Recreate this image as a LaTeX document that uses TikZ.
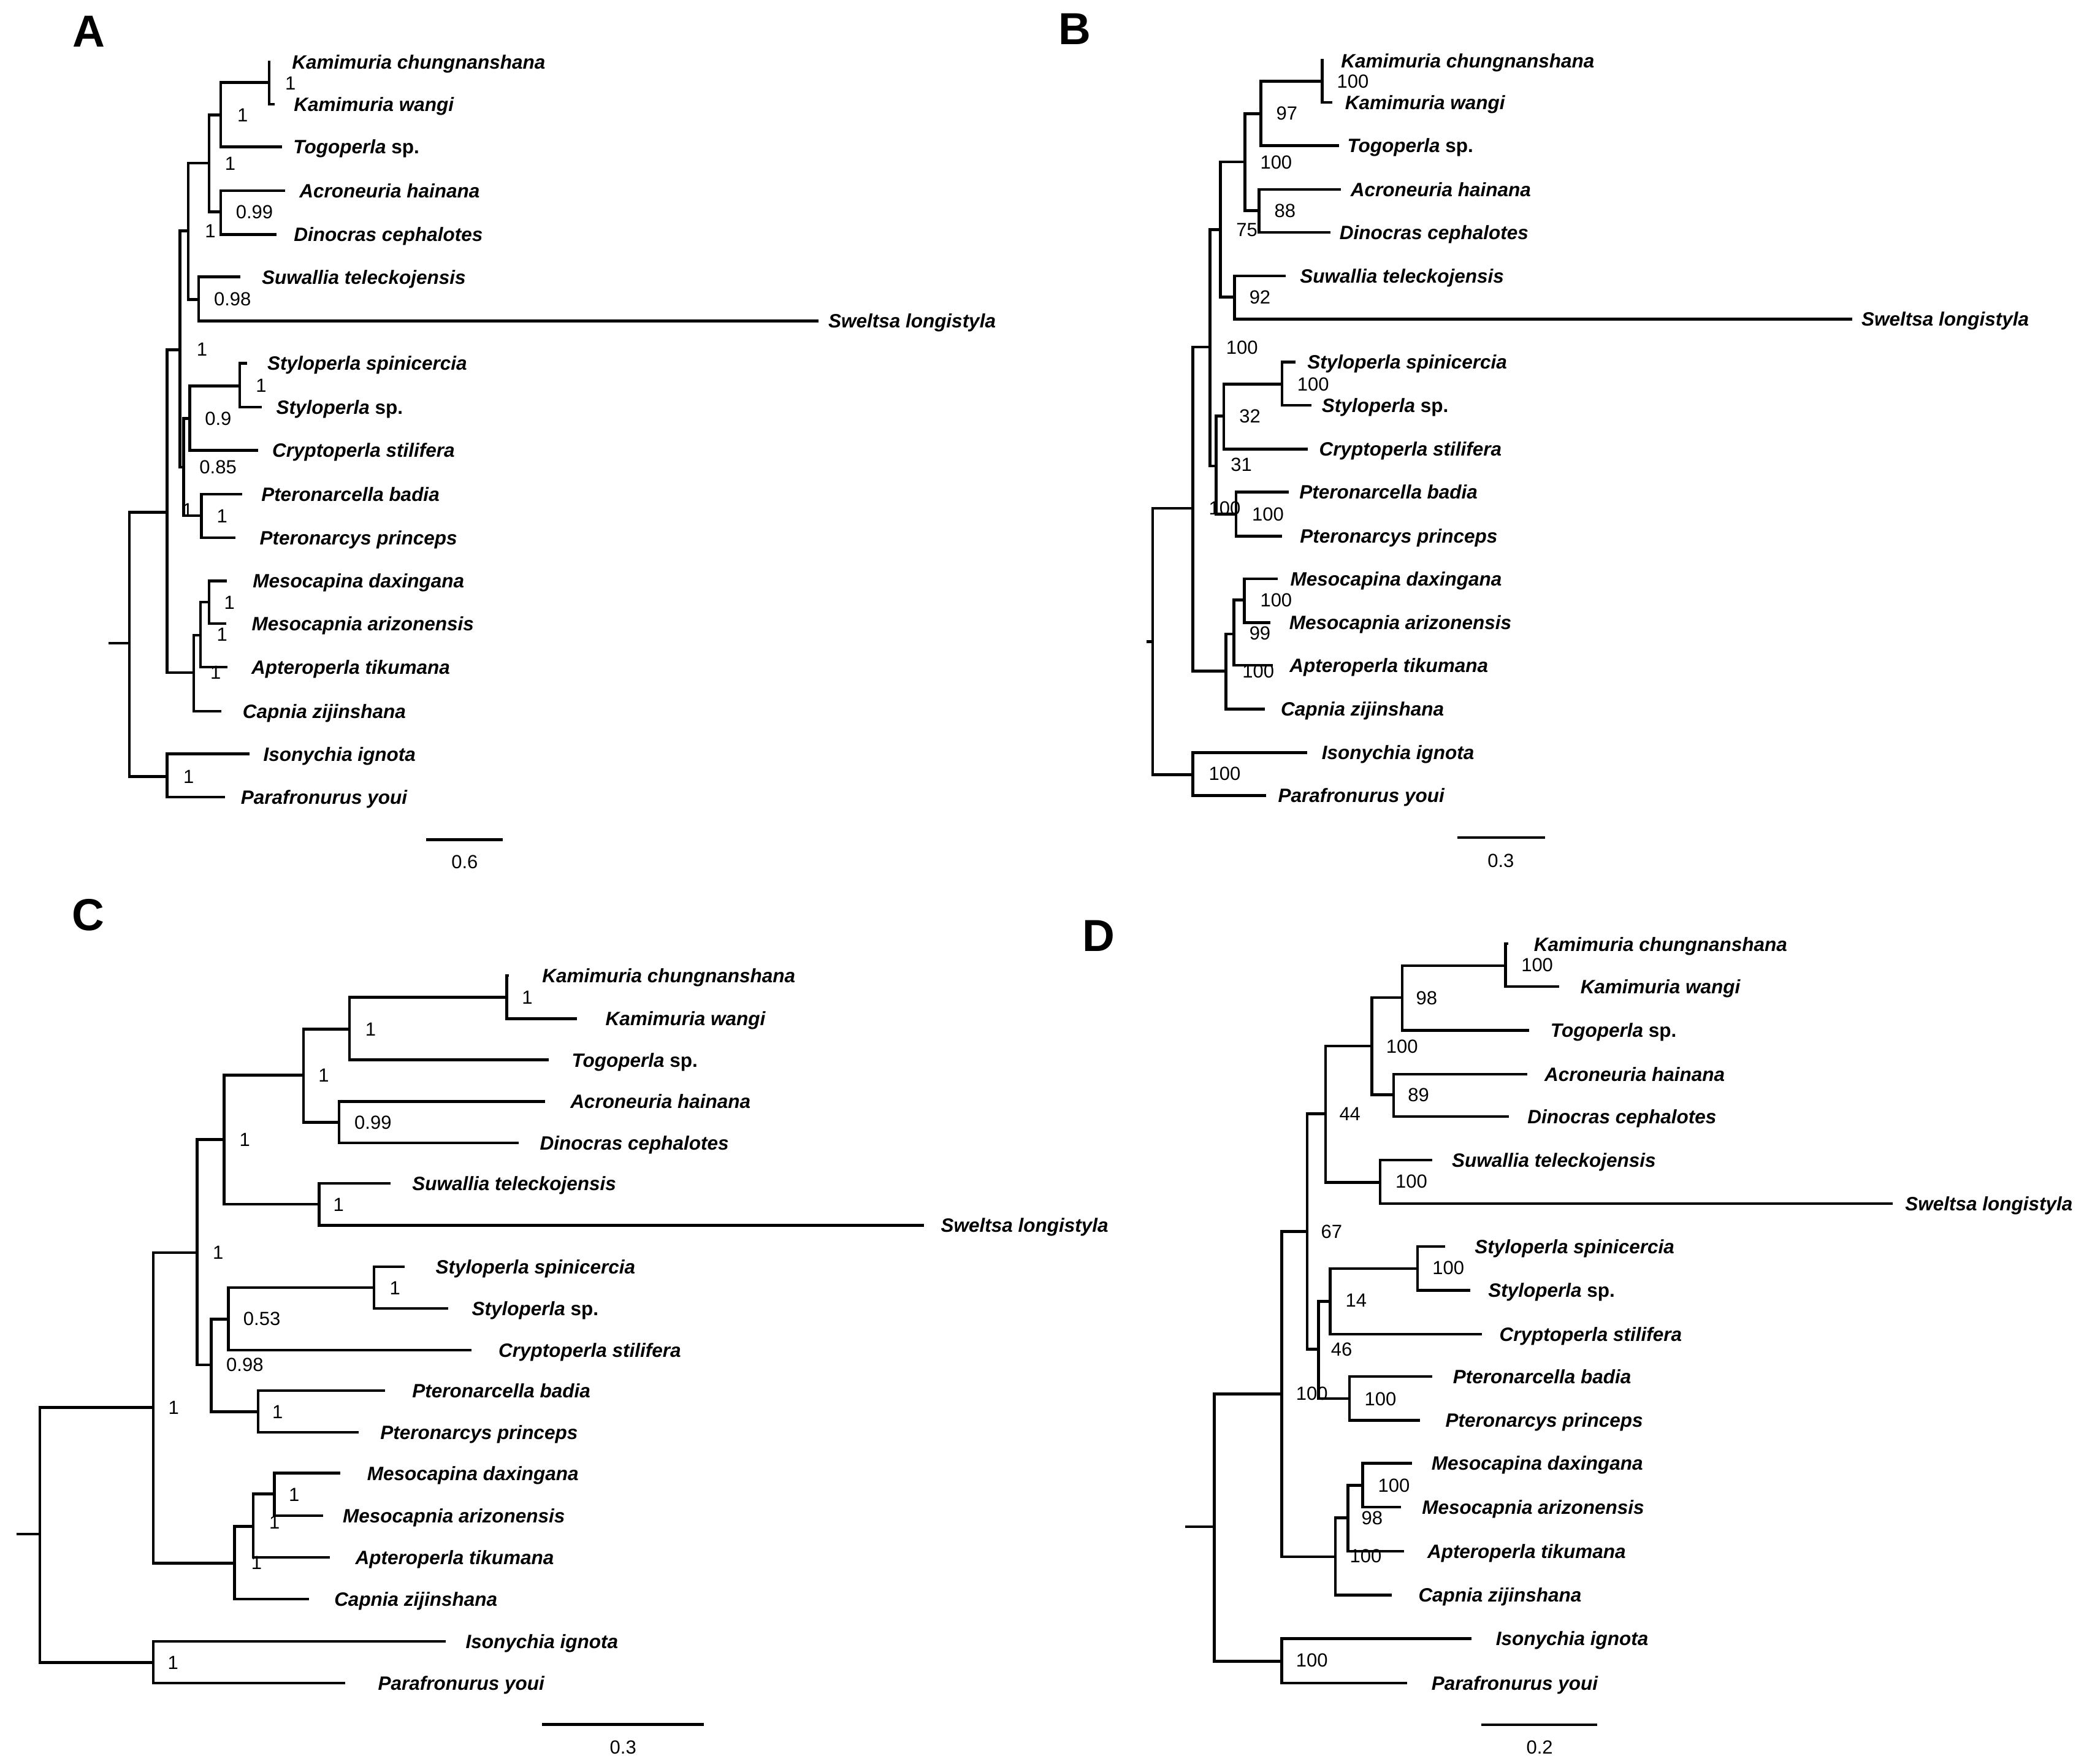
\documentclass[tikz,border=0pt]{standalone}
\usepackage{fontspec}
\setmainfont{Liberation Sans}
\tikzset{
  branch/.style={line width=1.8pt},
  taxon/.style={anchor=base west, inner sep=0pt, yshift=-1.56mm, font=\fontsize{12.4}{14}\selectfont\bfseries\itshape},
  support/.style={anchor=base west, inner sep=0pt, yshift=-1.53mm, font=\fontsize{12.2}{14}\selectfont},
  barlabel/.style={anchor=base, inner sep=0pt, yshift=-1.53mm, font=\fontsize{12.2}{14}\selectfont},
  panel/.style={inner sep=0pt, font=\fontsize{28.8}{32}\selectfont\bfseries}
}
\begin{document}
\begin{tikzpicture}[x=0.3mm, y=-0.3mm]
\useasboundingbox (0,0) rectangle (1568,1327);

\node[panel] (pA) at (66.7,23.6) {A};
\node[panel] (pB) at (808.5,22) {B};
\node[panel] (pC) at (66.5,688.5) {C};
\node[panel] (pD) at (826.5,704.3) {D};

% ---------------- A ----------------
\coordinate (aKC) at (202.6,45.6);
\coordinate (aKW) at (206.7,78.5);
\coordinate (aTOG) at (212.3,110.5);
\coordinate (aACR) at (214.3,143.5);
\coordinate (aDIN) at (208.2,176.4);
\coordinate (aSUW) at (181.0,208.4);
\coordinate (aSWE) at (616,241.4);
\coordinate (aSSP) at (186.1,273.4);
\coordinate (aSSN) at (196.8,306.4);
\coordinate (aCRY) at (194.2,338.8);
\coordinate (aPTA) at (182.4,371.9);
\coordinate (aPTY) at (177.3,404.5);
\coordinate (aMDA) at (170.5,437);
\coordinate (aMAR) at (170.1,469.2);
\coordinate (aAPT) at (171.1,502);
\coordinate (aCAP) at (166.4,535.1);
\coordinate (aISO) at (187.6,567.3);
\coordinate (aPAR) at (169.5,599.8);

\coordinate (a1) at (202.6,62.1);
\coordinate (a2) at (166.0,86.4);
\coordinate (a3) at (166.0,159.5);
\coordinate (a4) at (157.3,122.8);
\coordinate (a5) at (149.5,225.4);
\coordinate (a6) at (141.7,173.6);
\coordinate (a7) at (180.4,290.4);
\coordinate (a8) at (142.7,314.8);
\coordinate (a9) at (151.6,388);
\coordinate (a10) at (138.2,351.6);
\coordinate (a11) at (135.5,263.1);
\coordinate (a12) at (157.3,453);
\coordinate (a13) at (150.9,478);
\coordinate (a14) at (145.8,506);
\coordinate (a15) at (125.8,385.3);
\coordinate (a16) at (125.8,584.3);
\coordinate (aR) at (97.4,484);
\coordinate (aS) at (81.5,484);

\path[draw,branch] (a1) |- (aKC) (a1) |- (aKW);
\path[draw,branch] (a2) |- (a1) (a2) |- (aTOG);
\path[draw,branch] (a3) |- (aACR) (a3) |- (aDIN);
\path[draw,branch] (a4) |- (a2) (a4) |- (a3);
\path[draw,branch] (a5) |- (aSUW) (a5) |- (aSWE);
\path[draw,branch] (a6) |- (a4) (a6) |- (a5);
\path[draw,branch] (a7) |- (aSSP) (a7) |- (aSSN);
\path[draw,branch] (a8) |- (a7) (a8) |- (aCRY);
\path[draw,branch] (a9) |- (aPTA) (a9) |- (aPTY);
\path[draw,branch] (a10) |- (a8) (a10) |- (a9);
\path[draw,branch] (a11) |- (a6) (a11) |- (a10);
\path[draw,branch] (a12) |- (aMDA) (a12) |- (aMAR);
\path[draw,branch] (a13) |- (a12) (a13) |- (aAPT);
\path[draw,branch] (a14) |- (a13) (a14) |- (aCAP);
\path[draw,branch] (a15) |- (a11) (a15) |- (a14);
\path[draw,branch] (a16) |- (aISO) (a16) |- (aPAR);
\path[draw,branch] (aR) |- (a15) (aR) |- (a16);
\path[draw,branch] (aS) -- (aR);

\node[taxon] (aKCt) at (219.5,46.5) {Kamimuria chungnanshana};
\node[taxon] (aKWt) at (220.9,78.5) {Kamimuria wangi};
\node[taxon] (aTOGt) at (220.5,110.5) {Togoperla {\upshape sp.}};
\node[taxon] (aACRt) at (225.1,143.5) {Acroneuria hainana};
\node[taxon] (aDINt) at (220.9,176.4) {Dinocras cephalotes};
\node[taxon] (aSUWt) at (196.8,208.4) {Suwallia teleckojensis};
\node[taxon] (aSWEt) at (623,241.4) {Sweltsa longistyla};
\node[taxon] (aSSPt) at (201,273.4) {Styloperla spinicercia};
\node[taxon] (aSSNt) at (207.6,306.4) {Styloperla {\upshape sp.}};
\node[taxon] (aCRYt) at (204.7,338.8) {Cryptoperla stilifera};
\node[taxon] (aPTAt) at (196.4,371.9) {Pteronarcella badia};
\node[taxon] (aPTYt) at (195.2,404.5) {Pteronarcys princeps};
\node[taxon] (aMDAt) at (190,437) {Mesocapina daxingana};
\node[taxon] (aMARt) at (189.2,469.2) {Mesocapnia arizonensis};
\node[taxon] (aAPTt) at (189,502) {Apteroperla tikumana};
\node[taxon] (aCAPt) at (182.4,535.1) {Capnia zijinshana};
\node[taxon] (aISOt) at (197.9,567.3) {Isonychia ignota};
\node[taxon] (aPARt) at (181,599.8) {Parafronurus youi};

\node[support] (a1v) at (214.3,62.5) {1};
\node[support] (a2v) at (178.3,86.4) {1};
\node[support] (a4v) at (169,122.8) {1};
\node[support] (a3v) at (177.3,159.5) {0.99};
\node[support] (a6v) at (154,173.6) {1};
\node[support] (a5v) at (160.8,225) {0.98};
\node[support] (a11v) at (147.8,262.7) {1};
\node[support] (a7v) at (192.3,289.8) {1};
\node[support] (a8v) at (154,314.8) {0.9};
\node[support] (a10v) at (149.9,351.1) {0.85};
\node[support] (a15v) at (137,383.6) {1};
\node[support] (a9v) at (162.9,388) {1};
\node[support] (a12v) at (168.4,453) {1};
\node[support] (a13v) at (162.9,477.3) {1};
\node[support] (a14v) at (158,506) {1};
\node[support] (a16v) at (137.8,584.3) {1};

\coordinate (aB1) at (320.8,631.7);
\coordinate (aB2) at (378.4,631.7);
\path[draw,branch] (aB1) -- (aB2);
\node[barlabel] (aBt) at (349.6,648.3) {0.6};

% ---------------- B ----------------
\coordinate (bKC) at (994.8,44.3);
\coordinate (bKW) at (1002.6,77);
\coordinate (bTOG) at (1007.3,109.6);
\coordinate (bACR) at (1008.8,142.5);
\coordinate (bDIN) at (1001.1,174.9);
\coordinate (bSUW) at (967.2,207.5);
\coordinate (bSWE) at (1393.8,240.1);
\coordinate (bSSP) at (974.8,272.5);
\coordinate (bSSN) at (986.7,304.9);
\coordinate (bCRY) at (984,337.9);
\coordinate (bPTA) at (969.6,370.3);
\coordinate (bPTY) at (964.5,403.4);
\coordinate (bMDA) at (961.4,435.4);
\coordinate (bMAR) at (955.6,468.5);
\coordinate (bAPT) at (957.9,500.5);
\coordinate (bCAP) at (951.7,533.6);
\coordinate (bISO) at (983.4,566.2);
\coordinate (bPAR) at (952.5,598.6);

\coordinate (b1) at (994.8,61.2);
\coordinate (b2) at (948.6,85.7);
\coordinate (b3) at (947.4,158.5);
\coordinate (b4) at (936.7,121.8);
\coordinate (b5) at (928.9,223.5);
\coordinate (b6) at (918.2,172.7);
\coordinate (b7) at (964.5,289);
\coordinate (b8) at (920.8,313);
\coordinate (b9) at (929.9,386.9);
\coordinate (b10) at (915.1,350.5);
\coordinate (b11) at (910.5,261.2);
\coordinate (b12) at (936.1,451.5);
\coordinate (b13) at (928.5,476.9);
\coordinate (b14) at (922.3,504.9);
\coordinate (b15) at (897.6,382.5);
\coordinate (b16) at (897.6,582.8);
\coordinate (bR) at (867.3,482.8);
\coordinate (bS) at (862.6,482.8);

\path[draw,branch] (b1) |- (bKC) (b1) |- (bKW);
\path[draw,branch] (b2) |- (b1) (b2) |- (bTOG);
\path[draw,branch] (b3) |- (bACR) (b3) |- (bDIN);
\path[draw,branch] (b4) |- (b2) (b4) |- (b3);
\path[draw,branch] (b5) |- (bSUW) (b5) |- (bSWE);
\path[draw,branch] (b6) |- (b4) (b6) |- (b5);
\path[draw,branch] (b7) |- (bSSP) (b7) |- (bSSN);
\path[draw,branch] (b8) |- (b7) (b8) |- (bCRY);
\path[draw,branch] (b9) |- (bPTA) (b9) |- (bPTY);
\path[draw,branch] (b10) |- (b8) (b10) |- (b9);
\path[draw,branch] (b11) |- (b6) (b11) |- (b10);
\path[draw,branch] (b12) |- (bMDA) (b12) |- (bMAR);
\path[draw,branch] (b13) |- (b12) (b13) |- (bAPT);
\path[draw,branch] (b14) |- (b13) (b14) |- (bCAP);
\path[draw,branch] (b15) |- (b11) (b15) |- (b14);
\path[draw,branch] (b16) |- (bISO) (b16) |- (bPAR);
\path[draw,branch] (bR) |- (b15) (bR) |- (b16);
\path[draw,branch] (bS) -- (bR);

\node[taxon] (bKCt) at (1008.8,46) {Kamimuria chungnanshana};
\node[taxon] (bKWt) at (1011.8,77) {Kamimuria wangi};
\node[taxon] (bTOGt) at (1013.5,109.6) {Togoperla {\upshape sp.}};
\node[taxon] (bACRt) at (1016,142.5) {Acroneuria hainana};
\node[taxon] (bDINt) at (1007.7,174.9) {Dinocras cephalotes};
\node[taxon] (bSUWt) at (977.9,207.5) {Suwallia teleckojensis};
\node[taxon] (bSWEt) at (1400.4,240.1) {Sweltsa longistyla};
\node[taxon] (bSSPt) at (983.4,272.5) {Styloperla spinicercia};
\node[taxon] (bSSNt) at (994.3,304.9) {Styloperla {\upshape sp.}};
\node[taxon] (bCRYt) at (992.3,337.9) {Cryptoperla stilifera};
\node[taxon] (bPTAt) at (977.5,370.3) {Pteronarcella badia};
\node[taxon] (bPTYt) at (977.9,403.4) {Pteronarcys princeps};
\node[taxon] (bMDAt) at (970.7,435.4) {Mesocapina daxingana};
\node[taxon] (bMARt) at (969.8,468.5) {Mesocapnia arizonensis};
\node[taxon] (bAPTt) at (970.1,500.5) {Apteroperla tikumana};
\node[taxon] (bCAPt) at (963.5,533.6) {Capnia zijinshana};
\node[taxon] (bISOt) at (994.3,566.2) {Isonychia ignota};
\node[taxon] (bPARt) at (961.4,598.6) {Parafronurus youi};

\node[support] (b1v) at (1005.7,61.2) {100};
\node[support] (b2v) at (960,85.1) {97};
\node[support] (b4v) at (948,121.8) {100};
\node[support] (b3v) at (958.7,158.5) {88};
\node[support] (b6v) at (929.9,172.7) {75};
\node[support] (b5v) at (939.8,223.5) {92};
\node[support] (b11v) at (922.3,261.2) {100};
\node[support] (b7v) at (975.8,289) {100};
\node[support] (b8v) at (932.2,313) {32};
\node[support] (b10v) at (925.8,349.4) {31};
\node[support] (b15v) at (909.3,382) {100};
\node[support] (b9v) at (941.8,386.9) {100};
\node[support] (b12v) at (948,451.5) {100};
\node[support] (b13v) at (939.8,476.2) {99};
\node[support] (b14v) at (934.6,504.9) {100};
\node[support] (b16v) at (909.3,582.1) {100};

\coordinate (bB1) at (1096.3,630.2);
\coordinate (bB2) at (1162.6,630.2);
\path[draw,branch] (bB1) -- (bB2);
\node[barlabel] (bBt) at (1129.2,647.2) {0.3};

% ---------------- C ----------------
\coordinate (cKC) at (382.9,734);
\coordinate (cKW) at (434.2,766.5);
\coordinate (cTOG) at (413,797.5);
\coordinate (cACR) at (410.2,828.7);
\coordinate (cDIN) at (390.1,859.8);
\coordinate (cSUW) at (293.7,890.4);
\coordinate (cSWE) at (695.3,921.8);
\coordinate (cSSP) at (304.6,953);
\coordinate (cSSN) at (337.1,984.5);
\coordinate (cCRY) at (354.8,1015.8);
\coordinate (cPTA) at (289.5,1046.3);
\coordinate (cPTY) at (270,1077.7);
\coordinate (cMDA) at (255.9,1108.4);
\coordinate (cMAR) at (242.9,1140.3);
\coordinate (cAPT) at (248.2,1171.8);
\coordinate (cCAP) at (232.3,1203);
\coordinate (cISO) at (335.4,1234.9);
\coordinate (cPAR) at (259.5,1266.2);

\coordinate (c1) at (381.2,750.3);
\coordinate (c2) at (263,774.2);
\coordinate (c3) at (255.2,844.5);
\coordinate (c4) at (228.4,809);
\coordinate (c5) at (240,906.1);
\coordinate (c6) at (168.7,857.3);
\coordinate (c7) at (281.3,968.8);
\coordinate (c8) at (171.9,992.5);
\coordinate (c9) at (194.2,1062.2);
\coordinate (c10) at (158.9,1026.8);
\coordinate (c11) at (148.3,942.4);
\coordinate (c12) at (206.5,1124);
\coordinate (c13) at (190.6,1148.3);
\coordinate (c14) at (176.5,1176.2);
\coordinate (c15) at (115.4,1059);
\coordinate (c16) at (115.4,1250.9);
\coordinate (cR) at (30,1154.2);
\coordinate (cS) at (12.4,1154.2);

\path[draw,branch] (c1) |- (cKC) (c1) |- (cKW);
\path[draw,branch] (c2) |- (c1) (c2) |- (cTOG);
\path[draw,branch] (c3) |- (cACR) (c3) |- (cDIN);
\path[draw,branch] (c4) |- (c2) (c4) |- (c3);
\path[draw,branch] (c5) |- (cSUW) (c5) |- (cSWE);
\path[draw,branch] (c6) |- (c4) (c6) |- (c5);
\path[draw,branch] (c7) |- (cSSP) (c7) |- (cSSN);
\path[draw,branch] (c8) |- (c7) (c8) |- (cCRY);
\path[draw,branch] (c9) |- (cPTA) (c9) |- (cPTY);
\path[draw,branch] (c10) |- (c8) (c10) |- (c9);
\path[draw,branch] (c11) |- (c6) (c11) |- (c10);
\path[draw,branch] (c12) |- (cMDA) (c12) |- (cMAR);
\path[draw,branch] (c13) |- (c12) (c13) |- (cAPT);
\path[draw,branch] (c14) |- (c13) (c14) |- (cCAP);
\path[draw,branch] (c15) |- (c11) (c15) |- (c14);
\path[draw,branch] (c16) |- (cISO) (c16) |- (cPAR);
\path[draw,branch] (cR) |- (c15) (cR) |- (c16);
\path[draw,branch] (cS) -- (cR);

\node[taxon] (cKCt) at (407.7,734) {Kamimuria chungnanshana};
\node[taxon] (cKWt) at (455.4,766.5) {Kamimuria wangi};
\node[taxon] (cTOGt) at (430,797.5) {Togoperla {\upshape sp.}};
\node[taxon] (cACRt) at (428.9,828.7) {Acroneuria hainana};
\node[taxon] (cDINt) at (406,859.8) {Dinocras cephalotes};
\node[taxon] (cSUWt) at (309.9,890.4) {Suwallia teleckojensis};
\node[taxon] (cSWEt) at (707.7,921.8) {Sweltsa longistyla};
\node[taxon] (cSSPt) at (327.6,953) {Styloperla spinicercia};
\node[taxon] (cSSNt) at (354.8,984.5) {Styloperla {\upshape sp.}};
\node[taxon] (cCRYt) at (374.9,1015.8) {Cryptoperla stilifera};
\node[taxon] (cPTAt) at (309.9,1046.3) {Pteronarcella badia};
\node[taxon] (cPTYt) at (285.9,1077.7) {Pteronarcys princeps};
\node[taxon] (cMDAt) at (276,1108.4) {Mesocapina daxingana};
\node[taxon] (cMARt) at (257.7,1140.3) {Mesocapnia arizonensis};
\node[taxon] (cAPTt) at (267.2,1171.8) {Apteroperla tikumana};
\node[taxon] (cCAPt) at (251.3,1203) {Capnia zijinshana};
\node[taxon] (cISOt) at (350.2,1234.9) {Isonychia ignota};
\node[taxon] (cPARt) at (284.2,1266.2) {Parafronurus youi};

\node[support] (c1v) at (392.5,750.3) {1};
\node[support] (c2v) at (274.6,774.2) {1};
\node[support] (c4v) at (239.3,809) {1};
\node[support] (c3v) at (266.5,844.5) {0.99};
\node[support] (c6v) at (180,857.3) {1};
\node[support] (c5v) at (250.6,906.1) {1};
\node[support] (c11v) at (159.9,942.4) {1};
\node[support] (c7v) at (293,968.8) {1};
\node[support] (c8v) at (182.9,992.1) {0.53};
\node[support] (c10v) at (170.1,1026.8) {0.98};
\node[support] (c15v) at (126.4,1059) {1};
\node[support] (c9v) at (204.7,1062.2) {1};
\node[support] (c12v) at (217.1,1124.4) {1};
\node[support] (c13v) at (202.3,1145) {1};
\node[support] (c14v) at (188.9,1175.6) {1};
\node[support] (c16v) at (126,1250.9) {1};

\coordinate (cB1) at (407.7,1297.3);
\coordinate (cB2) at (529.5,1297.3);
\path[draw,branch] (cB1) -- (cB2);
\node[barlabel] (cBt) at (468.8,1314.6) {0.3};

% ---------------- D ----------------
\coordinate (dKC) at (1134.6,710);
\coordinate (dKW) at (1173,742.3);
\coordinate (dTOG) at (1150.5,775.3);
\coordinate (dACR) at (1149.1,808.2);
\coordinate (dDIN) at (1135.4,840.1);
\coordinate (dSUW) at (1077.6,872.7);
\coordinate (dSWE) at (1424,905.6);
\coordinate (dSSP) at (1087.4,937.9);
\coordinate (dSSN) at (1106.2,970.9);
\coordinate (dCRY) at (1115.2,1003.8);
\coordinate (dPTA) at (1077.6,1035.7);
\coordinate (dPTY) at (1068.4,1068.6);
\coordinate (dMDA) at (1062.6,1100.9);
\coordinate (dMAR) at (1054.3,1133.9);
\coordinate (dAPT) at (1056.5,1167.2);
\coordinate (dCAP) at (1047.2,1200.1);
\coordinate (dISO) at (1107.3,1232.9);
\coordinate (dPAR) at (1058.6,1266.2);

\coordinate (d1) at (1132.7,726.5);
\coordinate (d2) at (1055.1,750.6);
\coordinate (d3) at (1048.5,823.7);
\coordinate (d4) at (1032.1,787);
\coordinate (d5) at (1038.5,889.6);
\coordinate (d6) at (997.4,838.1);
\coordinate (d7) at (1066.5,954.4);
\coordinate (d8) at (1000.9,979.1);
\coordinate (d9) at (1015.4,1052.3);
\coordinate (d10) at (992.1,1015);
\coordinate (d11) at (983.6,926.6);
\coordinate (d12) at (1025.2,1117.4);
\coordinate (d13) at (1014.1,1141.9);
\coordinate (d14) at (1004.8,1171.2);
\coordinate (d15) at (964.3,1048.7);
\coordinate (d16) at (964.3,1249.9);
\coordinate (dR) at (913.5,1148.7);
\coordinate (dS) at (891.8,1148.7);

\path[draw,branch] (d1) |- (dKC) (d1) |- (dKW);
\path[draw,branch] (d2) |- (d1) (d2) |- (dTOG);
\path[draw,branch] (d3) |- (dACR) (d3) |- (dDIN);
\path[draw,branch] (d4) |- (d2) (d4) |- (d3);
\path[draw,branch] (d5) |- (dSUW) (d5) |- (dSWE);
\path[draw,branch] (d6) |- (d4) (d6) |- (d5);
\path[draw,branch] (d7) |- (dSSP) (d7) |- (dSSN);
\path[draw,branch] (d8) |- (d7) (d8) |- (dCRY);
\path[draw,branch] (d9) |- (dPTA) (d9) |- (dPTY);
\path[draw,branch] (d10) |- (d8) (d10) |- (d9);
\path[draw,branch] (d11) |- (d6) (d11) |- (d10);
\path[draw,branch] (d12) |- (dMDA) (d12) |- (dMAR);
\path[draw,branch] (d13) |- (d12) (d13) |- (dAPT);
\path[draw,branch] (d14) |- (d13) (d14) |- (dCAP);
\path[draw,branch] (d15) |- (d11) (d15) |- (d14);
\path[draw,branch] (d16) |- (dISO) (d16) |- (dPAR);
\path[draw,branch] (dR) |- (d15) (dR) |- (d16);
\path[draw,branch] (dS) -- (dR);

\node[taxon] (dKCt) at (1153.9,710.4) {Kamimuria chungnanshana};
\node[taxon] (dKWt) at (1188.9,742.3) {Kamimuria wangi};
\node[taxon] (dTOGt) at (1166.4,775.3) {Togoperla {\upshape sp.}};
\node[taxon] (dACRt) at (1161.9,808.2) {Acroneuria hainana};
\node[taxon] (dDINt) at (1149.1,840.1) {Dinocras cephalotes};
\node[taxon] (dSUWt) at (1092.2,872.7) {Suwallia teleckojensis};
\node[taxon] (dSWEt) at (1433.2,905.6) {Sweltsa longistyla};
\node[taxon] (dSSPt) at (1109.4,937.9) {Styloperla spinicercia};
\node[taxon] (dSSNt) at (1119.5,970.9) {Styloperla {\upshape sp.}};
\node[taxon] (dCRYt) at (1128,1003.8) {Cryptoperla stilifera};
\node[taxon] (dPTAt) at (1093,1035.7) {Pteronarcella badia};
\node[taxon] (dPTYt) at (1087.4,1068.6) {Pteronarcys princeps};
\node[taxon] (dMDAt) at (1076.9,1100.9) {Mesocapina daxingana};
\node[taxon] (dMARt) at (1069.7,1133.9) {Mesocapnia arizonensis};
\node[taxon] (dAPTt) at (1073.7,1167.2) {Apteroperla tikumana};
\node[taxon] (dCAPt) at (1067,1200.1) {Capnia zijinshana};
\node[taxon] (dISOt) at (1125.3,1232.9) {Isonychia ignota};
\node[taxon] (dPARt) at (1076.9,1266.2) {Parafronurus youi};

\node[support] (d1v) at (1144.4,725.9) {100};
\node[support] (d2v) at (1065.2,750.6) {98};
\node[support] (d4v) at (1042.7,787) {100};
\node[support] (d3v) at (1059.1,823.7) {89};
\node[support] (d6v) at (1007.5,838.1) {44};
\node[support] (d5v) at (1049.8,888.5) {100};
\node[support] (d11v) at (993.7,926.6) {67};
\node[support] (d7v) at (1077.6,953.8) {100};
\node[support] (d8v) at (1012.2,978.1) {14};
\node[support] (d10v) at (1001.2,1015) {46};
\node[support] (d15v) at (974.9,1048.3) {100};
\node[support] (d9v) at (1026.5,1052.3) {100};
\node[support] (d12v) at (1036.6,1117.4) {100};
\node[support] (d13v) at (1024.2,1141.9) {98};
\node[support] (d14v) at (1015.4,1170.6) {100};
\node[support] (d16v) at (974.9,1248.9) {100};

\coordinate (dB1) at (1114.7,1297.7);
\coordinate (dB2) at (1201.6,1297.7);
\path[draw,branch] (dB1) -- (dB2);
\node[barlabel] (dBt) at (1158.4,1314.6) {0.2};

\end{tikzpicture}
\end{document}
